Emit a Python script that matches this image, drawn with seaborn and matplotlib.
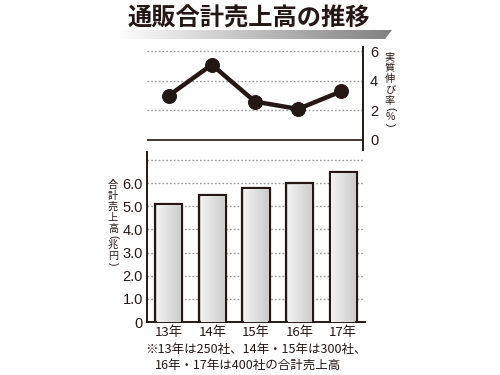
import numpy as np
import pandas as pd
import matplotlib
matplotlib.use("Agg")
import matplotlib.pyplot as plt
import seaborn as sns
from matplotlib.patches import Polygon

sns.set_theme(style="white")
plt.rcParams['font.family'] = ['Noto Sans CJK JP', 'DejaVu Sans']

years = ["13年", "14年", "15年", "16年", "17年"]
growth = [3.0, 5.1, 2.6, 2.1, 3.3]
sales = [5.1, 5.5, 5.8, 6.0, 6.5]
sales_ticks = [0, 1, 2, 3, 4, 5, 6, 7]
sales_ticklabels = ["0", "1.0", "2.0", "3.0", "4.0", "5.0", "6.0", ""]
growth_ticks = [0, 2, 4, 6]
title = "通販合計売上高の推移"
note1 = "※13年は250社、14年・15年は300社、"
note2 = "16年・17年は400社の合計売上高"
ylabel_top = "実質伸び率(%)"
ylabel_bot = "合計売上高(兆円)"

ink = "#231815"
df = pd.DataFrame({"year": years, "growth": growth, "sales": sales})

W, H = 500, 375
fig = plt.figure(figsize=(5, 3.75), dpi=100)

def ax_rect(x0, y0, x1, y1):
    return [x0 / W, 1 - y1 / H, (x1 - x0) / W, (y1 - y0) / H]

def vtext(x, y0, s, size, full=11.0, half=8.0):
    """Vertical Japanese text: upright characters, rotated parentheses."""
    y = y0
    for i, ch in enumerate(s):
        if i > 0:
            prev = s[i - 1]
            y += (half if (prev in "()" or ch in "()") else full)
        if ch in "()":
            fig.text(x / W, 1 - y / H, ch, ha="center", va="center",
                     fontsize=size, color=ink, rotation=-90,
                     family=["Liberation Sans", "DejaVu Sans"])
        else:
            fig.text(x / W, 1 - y / H, ch, ha="center", va="center",
                     fontsize=size, color=ink)

# ---- Title with gradient underline ----
bg = fig.add_axes([0, 0, 1, 1], zorder=-1)
grad = np.linspace(1.0, 0.5, 256)[None, :]
bg.imshow(grad, cmap="gray", vmin=0, vmax=1, extent=(114, 392, 39, 30),
          aspect="auto", interpolation="bilinear")
poly = Polygon([(114, 30), (392, 30), (385, 39), (114, 39)], closed=True,
               facecolor="none", edgecolor="none", transform=bg.transData)
bg.add_patch(poly)
bg.images[0].set_clip_path(poly)
bg.set_xlim(0, W); bg.set_ylim(H, 0); bg.axis("off")
bg.text(249, 19, title, ha="center", va="center", fontsize=17.5,
        fontweight="bold", color=ink)

# ---- Top line chart ----
ax1 = fig.add_axes(ax_rect(147, 47, 363, 150))
sns.lineplot(data=df, x="year", y="growth", ax=ax1, color=ink, lw=3.2,
             marker="o", markersize=10, markeredgecolor=ink, sort=False)
ax1.set_xlim(-0.5, 4.5)
ax1.set_ylim(-0.68, 6.3)
for v in [2, 4, 6]:
    ax1.axhline(v, color="#999999", lw=1.0, ls=(0, (1.2, 1.5)), zorder=0)
ax1.axhline(0, color=ink, lw=1.2, zorder=0)
for s in ["top", "left", "bottom"]:
    ax1.spines[s].set_visible(False)
ax1.spines["right"].set_color(ink)
ax1.spines["right"].set_linewidth(1.4)
ax1.yaxis.tick_right()
ax1.set_yticks(growth_ticks)
ax1.set_yticklabels([str(t) for t in growth_ticks], fontsize=10.5,
                    color=ink, family=["Liberation Sans", "DejaVu Sans"])
ax1.tick_params(axis="y", length=0, pad=5)
ax1.set_xticks([])
ax1.set_xlabel(""); ax1.set_ylabel("")
vtext(390, 57, ylabel_top, 7.3)

# ---- Bottom bar chart ----
ax2 = fig.add_axes(ax_rect(147, 152, 365, 322))
sns.barplot(data=df, x="year", y="sales", ax=ax2, width=0.62,
            color="#e0e0e0", edgecolor=ink, linewidth=1.6, zorder=3)
for v in range(1, 8):
    ax2.axhline(v, color="#999999", lw=1.0, ls=(0, (1.2, 1.5)), zorder=0)
bgrad = np.linspace(0.95, 0.80, 256)[None, :]
for p in ax2.patches:
    x0 = p.get_x(); w = p.get_width(); h = p.get_height()
    ax2.imshow(bgrad, cmap="gray", vmin=0, vmax=1,
               extent=(x0 + w * 0.06, x0 + w * 0.94, 0, h - 0.08),
               aspect="auto", zorder=3.5, interpolation="bilinear")
ax2.set_aspect("auto")
ax2.set_xlim(-0.5, 4.5)
ax2.set_ylim(0, 7.35)
for s in ["top", "right"]:
    ax2.spines[s].set_visible(False)
for s in ["left", "bottom"]:
    ax2.spines[s].set_color(ink)
    ax2.spines[s].set_linewidth(1.4)
ax2.set_yticks(sales_ticks)
ax2.set_yticklabels(sales_ticklabels, fontsize=10.5, color=ink,
                    family=["Liberation Sans", "DejaVu Sans"])
ax2.tick_params(axis="y", length=0, pad=3)
ax2.set_xticks(range(len(years)))
ax2.set_xticklabels(years, fontsize=9.5, color=ink)
ax2.tick_params(axis="x", length=0, pad=3)
ax2.set_xticks([0.5, 1.5, 2.5, 3.5], minor=True)
ax2.tick_params(axis="x", which="minor", direction="in", length=3,
                width=1.4, color=ink)
ax2.set_xlabel(""); ax2.set_ylabel("")
vtext(113, 185, ylabel_bot, 7.3)

# ---- footnote ----
fig.text(145 / W, 1 - 350 / H, note1, ha="left", va="center",
         fontsize=9, color=ink)
fig.text(155 / W, 1 - 365 / H, note2, ha="left", va="center",
         fontsize=9, color=ink)

fig.savefig("out.png", dpi=100)
